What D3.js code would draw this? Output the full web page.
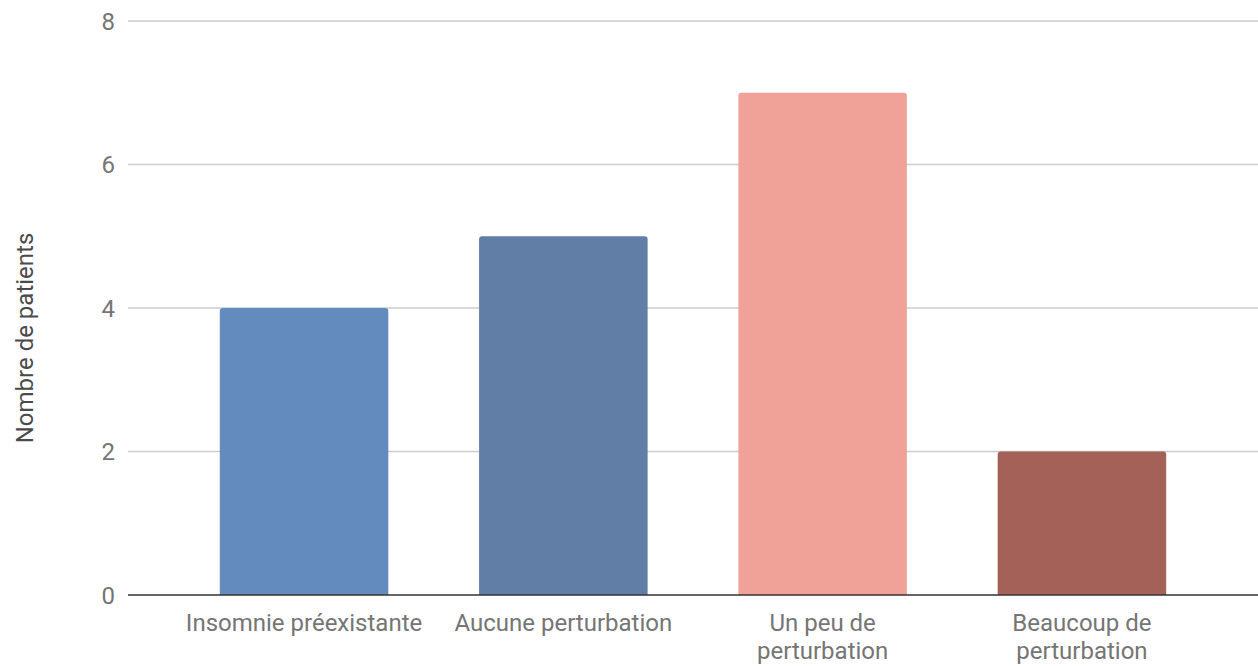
<!DOCTYPE html>
<html>
<head>
<meta charset="utf-8">
<script src="https://cdn.jsdelivr.net/npm/d3@7"></script>
<style>
  body { margin: 0; background: #fff; }
  text { font-family: Roboto, "Noto Sans", sans-serif; }
</style>
</head>
<body>
<div id="chart"></div>
<script>
const width = 1258;
const height = 666;

// Chart data
const categories = ['Insomnie préexistante', 'Aucune perturbation', 'Un peu de perturbation', 'Beaucoup de perturbation'];
const labelLines = [['Insomnie préexistante'], ['Aucune perturbation'], ['Un peu de', 'perturbation'], ['Beaucoup de', 'perturbation']];
const values = [4, 5, 7, 2];
const colors = ['#638bbd', '#607ea6', '#f0a298', '#a46158'];
const yTicks = [0, 2, 4, 6, 8];
const yTitle = 'Nombre de patients';

const margin = { top: 21, right: 0, bottom: 71, left: 128 };

const svg = d3.select('#chart')
  .append('svg')
  .attr('width', width)
  .attr('height', height);

const x = d3.scaleBand()
  .domain(categories)
  .range([margin.left, width - margin.right])
  .paddingInner(0.35)
  .paddingOuter(0.354);

const y = d3.scaleLinear()
  .domain([0, 8])
  .range([height - margin.bottom, margin.top]);

// Gridlines and tick labels
svg.selectAll('.grid')
  .data(yTicks.filter(d => d !== 0))
  .enter()
  .append('line')
  .attr('x1', margin.left)
  .attr('x2', width - margin.right)
  .attr('y1', d => y(d))
  .attr('y2', d => y(d))
  .style('stroke', '#cccccc')
  .style('stroke-width', 1.5);

svg.selectAll('.ytick')
  .data(yTicks)
  .enter()
  .append('text')
  .attr('x', 115)
  .attr('y', d => y(d))
  .attr('dy', '0.36em')
  .attr('text-anchor', 'end')
  .style('font-size', '24px')
  .style('fill', '#757575')
  .text(d => d);

// Bars with slightly rounded tops
const r = 3;
svg.selectAll('.bar')
  .data(values)
  .enter()
  .append('path')
  .attr('d', function (d, i) {
    const x0 = x(categories[i]);
    const w = x.bandwidth();
    const y0 = y(d);
    const yb = y(0);
    return `M${x0},${yb}V${y0 + r}Q${x0},${y0} ${x0 + r},${y0}H${x0 + w - r}Q${x0 + w},${y0} ${x0 + w},${y0 + r}V${yb}Z`;
  })
  .style('fill', (d, i) => colors[i]);

// Baseline
svg.append('line')
  .attr('x1', margin.left)
  .attr('x2', width - margin.right)
  .attr('y1', y(0))
  .attr('y2', y(0))
  .style('stroke', '#333333')
  .style('stroke-width', 1.5);

// Category labels
const labels = svg.selectAll('.xlabel')
  .data(categories)
  .enter()
  .append('text')
  .attr('text-anchor', 'middle')
  .style('font-size', '24px')
  .style('fill', '#757575');

labels.selectAll('tspan')
  .data((d, i) => labelLines[i])
  .enter()
  .append('tspan')
  .attr('x', function () { const c = d3.select(this.parentNode).datum(); return x(c) + x.bandwidth() / 2; })
  .attr('y', (d, j) => 631 + j * 28)
  .text(d => d);

// Y axis title
svg.append('text')
  .attr('transform', `translate(33,${(y(0) + y(8)) / 2 + 30}) rotate(-90)`)
  .attr('text-anchor', 'middle')
  .style('font-size', '24px')
  .style('fill', '#4a4a4a')
  .text(yTitle);
</script>
</body>
</html>
